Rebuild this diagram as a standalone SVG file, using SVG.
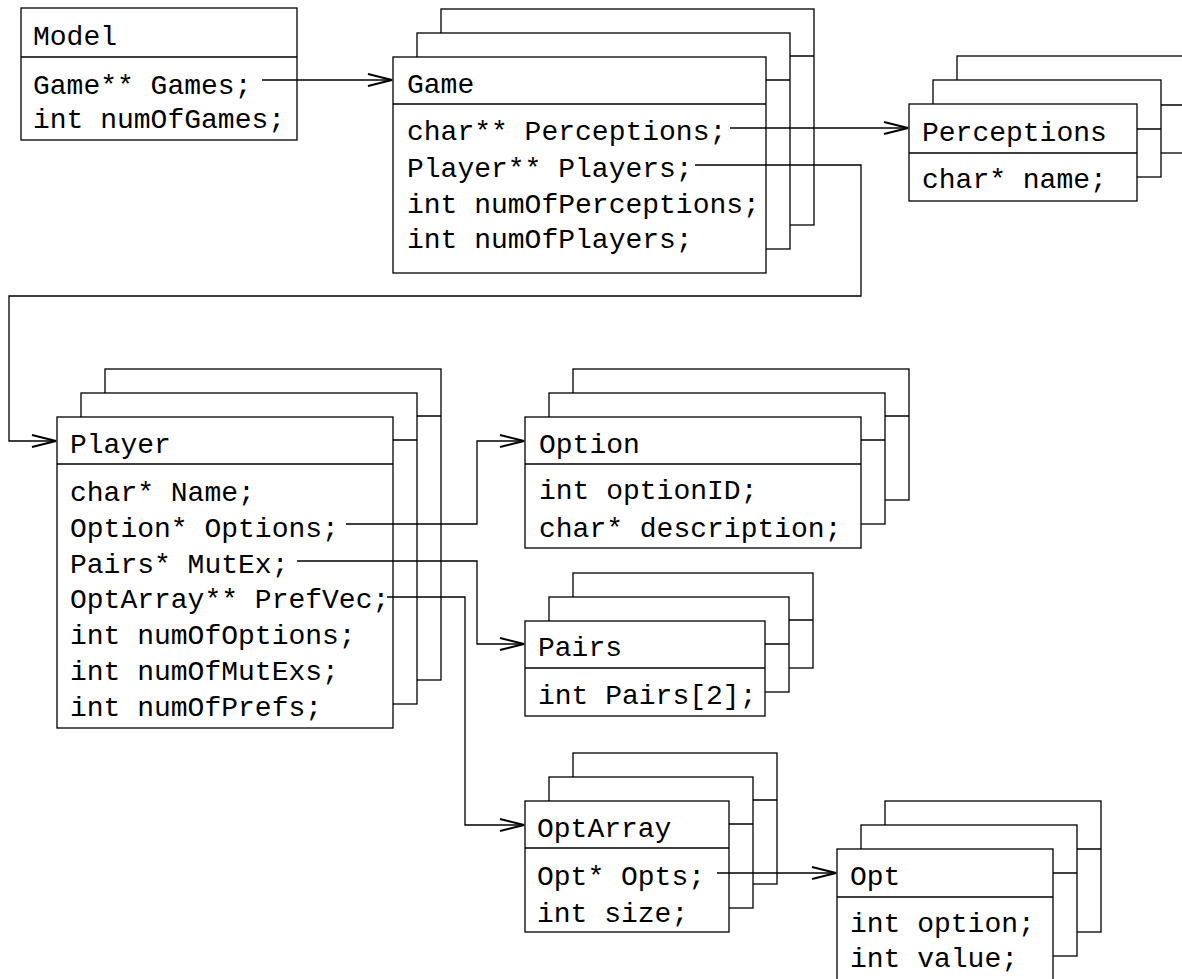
<svg xmlns="http://www.w3.org/2000/svg" width="1182" height="979" viewBox="0 0 1182 979">
<style>
.b{fill:#fff;stroke:#000;stroke-width:1.3}
.d{stroke:#000;stroke-width:1.3}
.t{font-family:"Liberation Mono","Courier New",monospace;font-size:28px;fill:#000}
.c{fill:none;stroke:#000;stroke-width:1.3}
</style>
<defs>
<marker id="a" markerUnits="userSpaceOnUse" markerWidth="26" markerHeight="14" viewBox="-1 -1 26 14" refX="24" refY="6" orient="auto">
<path d="M0,0 L24,6 L0,12" fill="none" stroke="#000" stroke-width="2"/>
</marker>
</defs>
<rect width="1182" height="979" fill="#fff"/>

<g id="model">
<rect class="b" x="21" y="8" width="276" height="132"/>
<line class="d" x1="21" y1="57" x2="297" y2="57"/>
<text class="t" x="33" y="45">Model</text>
<text class="t" x="33" y="94">Game** Games;</text>
<text class="t" x="33" y="128">int numOfGames;</text>
</g>

<g id="game">
<rect class="b" x="441" y="9" width="373" height="216"/>
<line class="d" x1="441" y1="56" x2="814" y2="56"/>
<rect class="b" x="417" y="33" width="373" height="216"/>
<line class="d" x1="417" y1="80" x2="790" y2="80"/>
<rect class="b" x="393" y="57" width="373" height="216"/>
<line class="d" x1="393" y1="104" x2="766" y2="104"/>
<text class="t" x="407" y="93">Game</text>
<text class="t" x="407" y="140">char** Perceptions;</text>
<text class="t" x="407" y="177">Player** Players;</text>
<text class="t" x="407" y="213">int numOfPerceptions;</text>
<text class="t" x="407" y="248">int numOfPlayers;</text>
</g>

<g id="perceptions">
<rect class="b" x="957" y="56" width="228" height="97"/>
<line class="d" x1="957" y1="105" x2="1185" y2="105"/>
<rect class="b" x="933" y="80" width="228" height="97"/>
<line class="d" x1="933" y1="129" x2="1161" y2="129"/>
<rect class="b" x="909" y="104" width="228" height="97"/>
<line class="d" x1="909" y1="153" x2="1137" y2="153"/>
<text class="t" x="922" y="141">Perceptions</text>
<text class="t" x="922" y="188">char* name;</text>
</g>

<g id="player">
<rect class="b" x="105" y="369" width="336" height="311"/>
<line class="d" x1="105" y1="416" x2="441" y2="416"/>
<rect class="b" x="81" y="393" width="336" height="311"/>
<line class="d" x1="81" y1="440" x2="417" y2="440"/>
<rect class="b" x="57" y="417" width="336" height="311"/>
<line class="d" x1="57" y1="464" x2="393" y2="464"/>
<text class="t" x="70" y="453">Player</text>
<text class="t" x="70" y="501">char* Name;</text>
<text class="t" x="70" y="537">Option* Options;</text>
<text class="t" x="70" y="573">Pairs* MutEx;</text>
<text class="t" x="70" y="608">OptArray** PrefVec;</text>
<text class="t" x="70" y="644">int numOfOptions;</text>
<text class="t" x="70" y="680">int numOfMutExs;</text>
<text class="t" x="70" y="716">int numOfPrefs;</text>
</g>

<g id="option">
<rect class="b" x="573" y="369" width="336" height="131"/>
<line class="d" x1="573" y1="416" x2="909" y2="416"/>
<rect class="b" x="549" y="393" width="336" height="131"/>
<line class="d" x1="549" y1="440" x2="885" y2="440"/>
<rect class="b" x="525" y="417" width="336" height="131"/>
<line class="d" x1="525" y1="464" x2="861" y2="464"/>
<text class="t" x="539" y="453">Option</text>
<text class="t" x="539" y="499">int optionID;</text>
<text class="t" x="539" y="537">char* description;</text>
</g>

<g id="pairs">
<rect class="b" x="573" y="573" width="240" height="95"/>
<line class="d" x1="573" y1="620" x2="813" y2="620"/>
<rect class="b" x="549" y="597" width="240" height="95"/>
<line class="d" x1="549" y1="644" x2="789" y2="644"/>
<rect class="b" x="525" y="621" width="240" height="95"/>
<line class="d" x1="525" y1="668" x2="765" y2="668"/>
<text class="t" x="538" y="656">Pairs</text>
<text class="t" x="538" y="704">int Pairs[2];</text>
</g>

<g id="optarray">
<rect class="b" x="573" y="753" width="204" height="131"/>
<line class="d" x1="573" y1="800" x2="777" y2="800"/>
<rect class="b" x="549" y="777" width="204" height="131"/>
<line class="d" x1="549" y1="824" x2="753" y2="824"/>
<rect class="b" x="525" y="801" width="204" height="131"/>
<line class="d" x1="525" y1="848" x2="729" y2="848"/>
<text class="t" x="537" y="837">OptArray</text>
<text class="t" x="537" y="885">Opt* Opts;</text>
<text class="t" x="537" y="922">int size;</text>
</g>

<g id="opt">
<rect class="b" x="885" y="801" width="216" height="131"/>
<line class="d" x1="885" y1="849" x2="1101" y2="849"/>
<rect class="b" x="861" y="825" width="216" height="131"/>
<line class="d" x1="861" y1="873" x2="1077" y2="873"/>
<rect class="b" x="837" y="849" width="216" height="131"/>
<line class="d" x1="837" y1="897" x2="1053" y2="897"/>
<text class="t" x="850" y="885">Opt</text>
<text class="t" x="850" y="932">int option;</text>
<text class="t" x="850" y="967">int value;</text>
</g>

<g id="connectors">
<path class="c" d="M262,80 H392" marker-end="url(#a)"/>
<path class="c" d="M730,128 H908" marker-end="url(#a)"/>
<path class="c" d="M695,165 H861 V296 H9 V441 H56" marker-end="url(#a)"/>
<path class="c" d="M346,524 H477 V441 H524" marker-end="url(#a)"/>
<path class="c" d="M297,561 H477 V644 H524" marker-end="url(#a)"/>
<path class="c" d="M387,597 H465 V825 H524" marker-end="url(#a)"/>
<path class="c" d="M717,873 H836" marker-end="url(#a)"/>
</g>
</svg>
